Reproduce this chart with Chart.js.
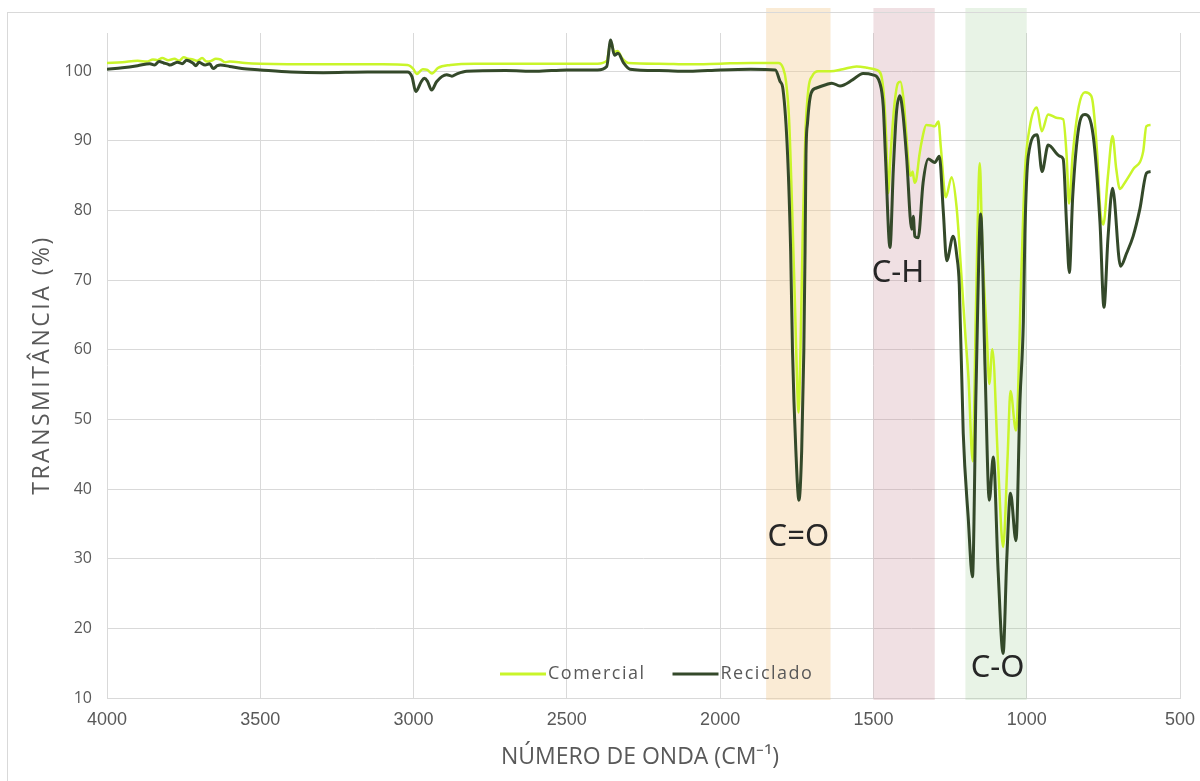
<!DOCTYPE html>
<html>
<head>
<meta charset="utf-8">
<script src="https://cdn.jsdelivr.net/npm/chart.js@4.4.1/dist/chart.umd.min.js"></script>
<style>
  html, body { margin: 0; padding: 0; background: #fff; overflow: hidden; }
  #wrap { width: 1200px; height: 781px; position: relative; }
  canvas { display: block; }
</style>
</head>
<body>
<div id="wrap"><canvas id="ftir"></canvas></div>
<script>
// ================= DATA =================
const comercialWave = [4000, 3950, 3900, 3870, 3850, 3835, 3820, 3800, 3780, 3765, 3750, 3735, 3720, 3705, 3690, 3675, 3660, 3645, 3630, 3615, 3600, 3550, 3500, 3300, 3100, 3020, 3000, 2990, 2970, 2955, 2940, 2920, 2880, 2800, 2500, 2400, 2370, 2357, 2345, 2335, 2320, 2300, 2200, 2100, 2000, 1900, 1810, 1795, 1785, 1775, 1765, 1755, 1748, 1744, 1738, 1730, 1722, 1712, 1700, 1680, 1640, 1600, 1555, 1520, 1490, 1475, 1465, 1458, 1452, 1444, 1432, 1420, 1412, 1402, 1393, 1384, 1378, 1372, 1366, 1360, 1350, 1340, 1328, 1310, 1300, 1288, 1280, 1264, 1245, 1229, 1212, 1200, 1190, 1176, 1166, 1153, 1145, 1130, 1122, 1112, 1093, 1077, 1062, 1053, 1035, 1017, 1006, 990, 967, 951, 930, 900, 881, 870, 862, 850, 830, 810, 790, 783, 770, 760, 750, 735, 720, 708, 696, 680, 653, 620, 610, 596];
const comercialValues = [101.2, 101.3, 101.5, 101.4, 101.7, 101.6, 101.9, 101.6, 101.8, 101.5, 102.0, 101.8, 101.7, 101.5, 101.9, 101.4, 101.5, 101.8, 101.7, 101.3, 101.4, 101.2, 101.1, 101.0, 101.0, 100.9, 100.3, 99.6, 100.3, 100.2, 99.7, 100.5, 100.9, 101.1, 101.1, 101.1, 101.5, 104.2, 102.8, 102.9, 101.9, 101.2, 101.1, 101.0, 101.1, 101.2, 101.2, 100.5, 98.5, 93, 80, 65, 54, 51, 60, 78, 91, 97.5, 99.3, 100, 100, 100.3, 100.7, 100.5, 100.2, 99.5, 96, 90, 82.5, 88, 95, 98.3, 98.5, 96, 91, 86, 85, 85.6, 84, 84.5, 88, 90.5, 92.3, 92.2, 92.1, 92.8, 89, 81.9, 84.8, 80.6, 70, 62, 56, 44, 65, 86.8, 75, 62, 55.1, 60.1, 43.2, 31.7, 45, 54.1, 48.4, 71.8, 85.4, 92, 94.8, 91.4, 93.8, 93.3, 93.1, 88, 81, 88, 95, 97, 96.5, 95, 88, 80, 78, 85, 90.7, 86, 83.1, 84, 85.9, 88.5, 92.1, 92.3];

const recicladoWave = [4000, 3950, 3900, 3860, 3845, 3830, 3815, 3800, 3795, 3770, 3755, 3740, 3720, 3710, 3700, 3680, 3665, 3654, 3640, 3630, 3600, 3560, 3500, 3400, 3295, 3150, 3020, 3005, 2993, 2975, 2965, 2955, 2941, 2925, 2892, 2875, 2860, 2827, 2700, 2600, 2500, 2400, 2370, 2357, 2345, 2333, 2315, 2294, 2200, 2100, 2000, 1900, 1820, 1805, 1795, 1780, 1770, 1764, 1753, 1743, 1734, 1727, 1723, 1720, 1715, 1703, 1686, 1653, 1636, 1609, 1567, 1534, 1502, 1479, 1468, 1460, 1446, 1435, 1425, 1414, 1404, 1392, 1375, 1370, 1365, 1354, 1338, 1321, 1300, 1285, 1272, 1261, 1240, 1228, 1220, 1207, 1191, 1177, 1165, 1150, 1136, 1122, 1109, 1093, 1077, 1065, 1053, 1035, 1022, 1011, 1006, 995, 966, 950, 930, 892, 881, 870, 861, 850, 830, 810, 783, 761, 748, 735, 720, 694, 674, 653, 631, 609, 596];
const recicladoValues = [100.3, 100.5, 100.8, 101.1, 100.9, 101.4, 101.2, 101.0, 100.9, 101.3, 101.1, 101.6, 101.2, 100.8, 101.3, 100.9, 101.1, 100.4, 100.8, 100.9, 100.7, 100.4, 100.2, 99.9, 99.8, 99.9, 99.9, 99.2, 97.1, 98.5, 99.0, 98.6, 97.3, 98.5, 99.5, 99.3, 99.6, 100.0, 100.1, 100.0, 100.2, 100.2, 100.7, 104.5, 102.3, 102.6, 101.2, 100.3, 100.1, 100.0, 100.2, 100.3, 100.2, 98.6, 97.4, 88, 74.2, 59.9, 45.5, 38.4, 45.5, 59.9, 74.2, 88, 92.6, 96.9, 97.6, 98.1, 98.3, 97.9, 98.8, 99.7, 99.5, 98.3, 95, 87, 74.7, 86, 94, 96.5, 94, 87.8, 77.3, 79.2, 76.3, 76.1, 84, 87.4, 86.9, 87.8, 79.8, 72.8, 76.3, 73.5, 69.4, 48, 36, 27.4, 55, 79.5, 57.5, 38.4, 44.6, 28, 16.4, 30, 39.4, 32.6, 52.7, 64, 76.6, 87.8, 90.9, 85.6, 89.4, 87.8, 87.4, 78, 71.1, 82, 92, 93.8, 90.7, 78.3, 66.1, 76, 83.2, 72.0, 73.9, 76.3, 80.2, 85.4, 85.6];

const xTicks = [4000, 3500, 3000, 2500, 2000, 1500, 1000, 500];
const yTicks = [10, 20, 30, 40, 50, 60, 70, 80, 90, 100];

// highlighted bands and their labels
const bandRanges = [[1850, 1640], [1500, 1300], [1200, 1000]];
const bandColors = ["rgba(242,205,150,0.40)", "rgba(200,140,150,0.27)", "rgba(150,200,140,0.22)"];
const bandLabels = ["C=O", "C-H", "C-O"];
const labelPoints = [[1745, 33.1], [1420, 71], [1095, 14.3]];

const toPoints = (w, v) => w.map((x, i) => ({ x, y: v[i] }));

// ================= PLUGINS =================
const bandsPlugin = {
    id: "bands",
    beforeDatasetsDraw(chart) {
        const { ctx, chartArea, scales } = chart;
        ctx.save();
        bandRanges.forEach((r, i) => {
            const x1 = scales.x.getPixelForValue(r[0]);
            const x2 = scales.x.getPixelForValue(r[1]);
            ctx.fillStyle = bandColors[i];
            ctx.fillRect(x1, 8, x2 - x1, chartArea.bottom + 2 - 8);
        });
        ctx.restore();
    },
    afterDatasetsDraw(chart) {
        const { ctx, scales } = chart;
        ctx.save();
        ctx.font = "31px 'Noto Sans'";
        ctx.fillStyle = "#262626";
        ctx.textAlign = "center";
        ctx.textBaseline = "middle";
        bandLabels.forEach((t, i) => {
            ctx.fillText(t, scales.x.getPixelForValue(labelPoints[i][0]), scales.y.getPixelForValue(labelPoints[i][1]));
        });
        ctx.restore();
    }
};

const frameAndLegend = {
    id: "frameAndLegend",
    afterDraw(chart) {
        const { ctx } = chart;
        ctx.save();
        // outer chart border
        ctx.strokeStyle = "#d9d9d9";
        ctx.lineWidth = 1;
        ctx.strokeRect(7.5, 12.5, 1200, 780);

        // axis titles
        ctx.fillStyle = "#595959";
        ctx.font = "23px 'Open Sans'";
        ctx.textAlign = "center";
        ctx.textBaseline = "middle";
        ctx.fillText("NÚMERO DE ONDA (CM\u207B\u00B9)", 640, 757);
        ctx.translate(42, 365);
        ctx.rotate(-Math.PI / 2);
        ctx.letterSpacing = "2.5px";
        ctx.fillText("TRANSMITÂNCIA (%)", 0, 0);
        ctx.restore();

        // legend inside the plot
        ctx.save();
        ctx.font = "18px 'Open Sans'";
        ctx.letterSpacing = "1.5px";
        ctx.textBaseline = "middle";
        ctx.fillStyle = "#595959";
        let x = 500;
        const y = 674;
        chart.data.datasets.forEach(ds => {
            ctx.strokeStyle = ds.borderColor;
            ctx.lineWidth = 3;
            ctx.beginPath();
            ctx.moveTo(x, y);
            ctx.lineTo(x + 46, y);
            ctx.stroke();
            ctx.fillText(ds.label, x + 48, y);
            x += 48 + ctx.measureText(ds.label).width + 27;
        });
        ctx.restore();
    }
};

// ================= CHART =================
new Chart(document.getElementById("ftir"), {
    type: "line",
    data: {
        datasets: [
            {
                label: "Comercial",
                data: toPoints(comercialWave, comercialValues),
                borderColor: "#c9f52a",
                borderWidth: 2.5,
                order: 2
            },
            {
                label: "Reciclado",
                data: toPoints(recicladoWave, recicladoValues),
                borderColor: "#34492a",
                borderWidth: 3,
                order: 1
            }
        ]
    },
    options: {
        responsive: true,
        maintainAspectRatio: false,
        animation: false,
        layout: { padding: { left: 0, right: 20, top: 33, bottom: 0 } },
        elements: {
            point: { radius: 0 },
            line: { cubicInterpolationMode: "monotone", fill: false }
        },
        plugins: { legend: { display: false }, tooltip: { enabled: false } },
        scales: {
            x: {
                type: "linear",
                reverse: true,
                min: 500,
                max: 4000,
                afterBuildTicks: s => { s.ticks = xTicks.map(v => ({ value: v })); },
                afterFit: s => {
                    s.height = 83;
                    s.paddingLeft = 0;
                    s.paddingRight = 0;
                },
                grid: { color: "#d9d9d9", drawTicks: false },
                border: { color: "#d9d9d9" },
                ticks: {
                    padding: 11,
                    color: "#595959",
                    font: { family: "'Liberation Sans Narrow', 'Liberation Sans'", size: 18 },
                    maxRotation: 0,
                    callback: v => String(v)
                }
            },
            y: {
                min: 10,
                max: 105.5,
                afterBuildTicks: s => { s.ticks = yTicks.map(v => ({ value: v })); },
                afterFit: s => { s.width = 107; },
                grid: { color: "#d9d9d9", drawTicks: false },
                border: { display: false },
                ticks: {
                    padding: 15,
                    color: "#595959",
                    font: { family: "'Open Sans'", size: 16 }
                }
            }
        }
    },
    plugins: [bandsPlugin, frameAndLegend]
});
</script>
</body>
</html>
